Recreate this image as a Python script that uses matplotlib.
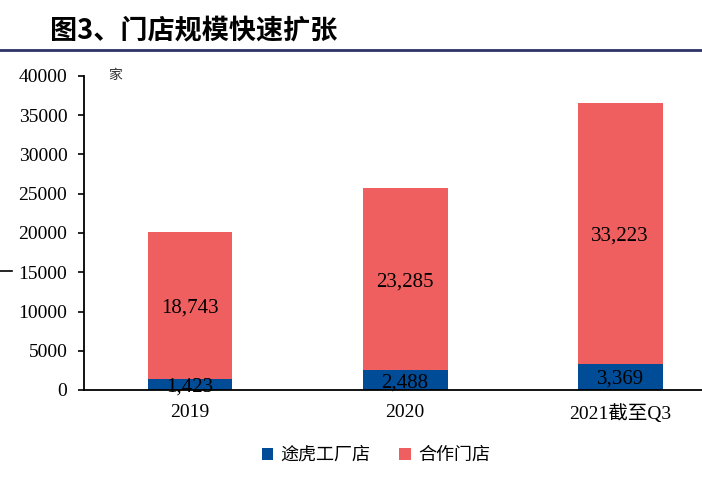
import matplotlib
matplotlib.use("Agg")
import matplotlib.pyplot as plt
from matplotlib.lines import Line2D
from matplotlib.patches import Patch

categories = ["2019", "2020", "2021截至Q3"]
own_stores = [1423, 2488, 3369]
partner_stores = [18743, 23285, 33223]
series_names = ["途虎工厂店", "合作门店"]
yticks = [0, 5000, 10000, 15000, 20000, 25000, 30000, 35000, 40000]

BLUE = "#004C97"
RED = "#EF5F5F"
SERIF = ["Liberation Serif", "Noto Sans CJK SC"]
CJK = ["Noto Sans CJK SC", "DejaVu Sans"]

fig = plt.figure(figsize=(7.02, 4.80), dpi=100)
ax = fig.add_axes([84/702, 1-390/480, 1-84/702, (390-76)/480])

x = list(range(len(categories)))
w = 0.395
ax.bar(x, own_stores, width=w, color=BLUE, zorder=2)
ax.bar(x, partner_stores, width=w, bottom=own_stores, color=RED, zorder=2)

for xi, a, b in zip(x, own_stores, partner_stores):
    ax.text(xi, a/2, f"{a:,}", ha="center", va="center_baseline", fontsize=15,
            family=SERIF, color="black", zorder=3)
    ax.text(xi, a + b/2, f"{b:,}", ha="center", va="center_baseline", fontsize=15,
            family=SERIF, color="black", zorder=3)

ax.set_xlim(-0.493, 2.381)
ax.set_ylim(0, 40000)
ax.set_yticks(yticks)
ax.set_yticklabels([str(v) for v in yticks], family=SERIF, fontsize=14)
ax.set_xticks(x)
ax.set_xticklabels(categories, family=SERIF, fontsize=14)
ax.tick_params(axis="x", length=0, pad=10)
ax.tick_params(axis="y", length=4, width=1.2, pad=8, direction="out")
for s in ["top", "right"]:
    ax.spines[s].set_visible(False)
ax.spines["left"].set_linewidth(1.3)
ax.spines["bottom"].set_linewidth(1.3)
ax.text(24/618, 1.025, "家", transform=ax.transAxes, family=CJK, fontsize=10,
        ha="left", va="top", color="#333333")

handles = [Patch(facecolor=BLUE), Patch(facecolor=RED)]
leg = fig.legend(handles, series_names, loc="center", bbox_to_anchor=(376/702, 1-455/480),
                 ncol=2, frameon=False, prop={"family": CJK, "size": 13},
                 handlelength=0.65, handleheight=0.65, handletextpad=0.4, columnspacing=1.6)

fig.text(50/702, 1-31/480, "图3、门店规模快速扩张", family=CJK, fontsize=19.5,
         fontweight="bold", ha="left", va="center")
fig.add_artist(Line2D([0, 1], [1-50/480, 1-50/480], transform=fig.transFigure,
                      color="#2E3267", linewidth=2))
fig.add_artist(Line2D([0, 12/702], [1-271/480, 1-271/480], transform=fig.transFigure,
                      color="black", linewidth=1.2))

fig.savefig("out.png", dpi=100)
